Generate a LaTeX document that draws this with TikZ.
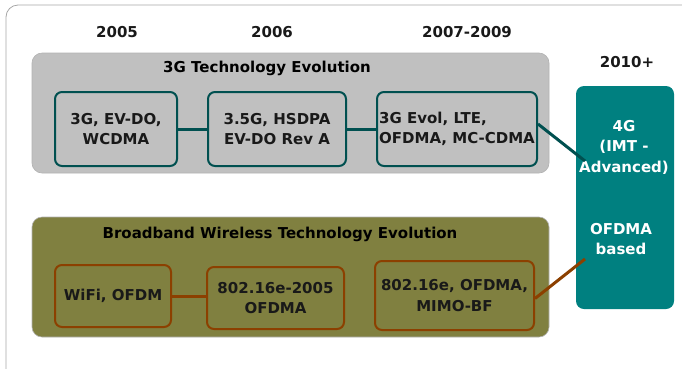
\documentclass[tikz,border=0pt]{standalone}
\usepackage{fontspec}
\setmainfont{DejaVu Sans}
\usetikzlibrary{positioning, calc}

\definecolor{panelgray}{RGB}{192,192,192}
\definecolor{olivepanel}{RGB}{128,128,64}
\definecolor{tealbox}{RGB}{0,128,128}
\definecolor{tealline}{RGB}{0,80,80}
\definecolor{brownline}{RGB}{140,64,0}

\begin{document}
\begin{tikzpicture}[
    x=1pt, y=-1pt,
    % --- Frame and panel styles ---
    frame/.style={rounded corners=12pt, draw=gray!70, line width=0.8pt},
    panel/.style={rounded corners=10pt, draw=gray!60, line width=0.6pt, fill=#1},
    % --- Text styles ---
    txt/.style={font=\fontsize{15}{20.5}\selectfont\bfseries, inner sep=1pt},
    year/.style={txt, text=black!90},
    % --- Technology boxes ---
    tech/.style={
        draw=#1, line width=2pt, rounded corners=7pt,
        align=center, txt, text=black!90
    },
    fourg/.style={
        fill=tealbox, rounded corners=8pt,
        minimum width=98pt, minimum height=223pt
    },
    % --- Connector styles ---
    link/.style={draw=#1, line width=3pt},
]

\clip (0,0) rectangle (682,368);
\draw[frame] (6,5) rectangle (720,390);

% =============================================
%  Years
% =============================================
\node[year] (y2005) at (117,32) {2005};
\node[year] (y2006) at (272,32) {2006};
\node[year] (y2007) at (467,32) {2007-2009};
\node[year] (y2010) at (627,62) {2010+};

% =============================================
%  Panels
% =============================================
\draw[panel=panelgray]  (32,53)  rectangle (549,173);
\draw[panel=olivepanel] (32,217) rectangle (549,337);
\node[txt] (gtitle) at (267,68)  {3G Technology Evolution};
\node[txt] (btitle) at (280,234) {Broadband Wireless Technology Evolution};

% =============================================
%  3G row
% =============================================
\node[tech=tealline, minimum width=122pt, minimum height=74pt] (g1) at (116,129)
    {3G, EV-DO,\\WCDMA};
\node[tech=tealline, minimum width=138pt, minimum height=74pt] (g2) at (277,129)
    {3.5G, HSDPA\\EV-DO Rev A};
\node[tech=tealline, align=left, minimum width=160pt, minimum height=74pt] (g3) at (457,129)
    {3G Evol, LTE,\\OFDMA, MC-CDMA};

% =============================================
%  Broadband wireless row
% =============================================
\node[tech=brownline, minimum width=116pt, minimum height=62pt] (b1) at (113,296)
    {WiFi, OFDM};
\node[tech=brownline, minimum width=137pt, minimum height=62pt] (b2) at (275.5,298)
    {802.16e-2005\\OFDMA};
\node[tech=brownline, minimum width=159pt, minimum height=69pt] (b3) at (454.5,295.5)
    {802.16e, OFDMA,\\MIMO-BF};

% =============================================
%  4G
% =============================================
\node[fourg] (g4) at (625,197.5) {};
\node[txt, text=white, align=center] (g4name) at (624,147) {4G\\(IMT -\\Advanced)};
\node[txt, text=white, align=center] (g4base) at (621,239) {OFDMA\\based};
\coordinate (g4top) at (585,161);
\coordinate (g4bot) at (585,259);

% =============================================
%  Connections
% =============================================
\draw[link=tealline]  (g1.east) -- (g2.west);
\draw[link=tealline]  (g2.east) -- (g3.west);
\draw[link=tealline]  ($(g3.east)+(0,-5)$) -- (g4top);
\draw[link=brownline] (b1.east) -- (b1.east -| b2.west);
\draw[link=brownline] ($(b2.east)+(0,2)$) -- ($(b2.east)+(0,2)$ -| b3.west);
\draw[link=brownline] ($(b3.east)+(0,3)$) -- (g4bot);

\end{tikzpicture}
\end{document}
